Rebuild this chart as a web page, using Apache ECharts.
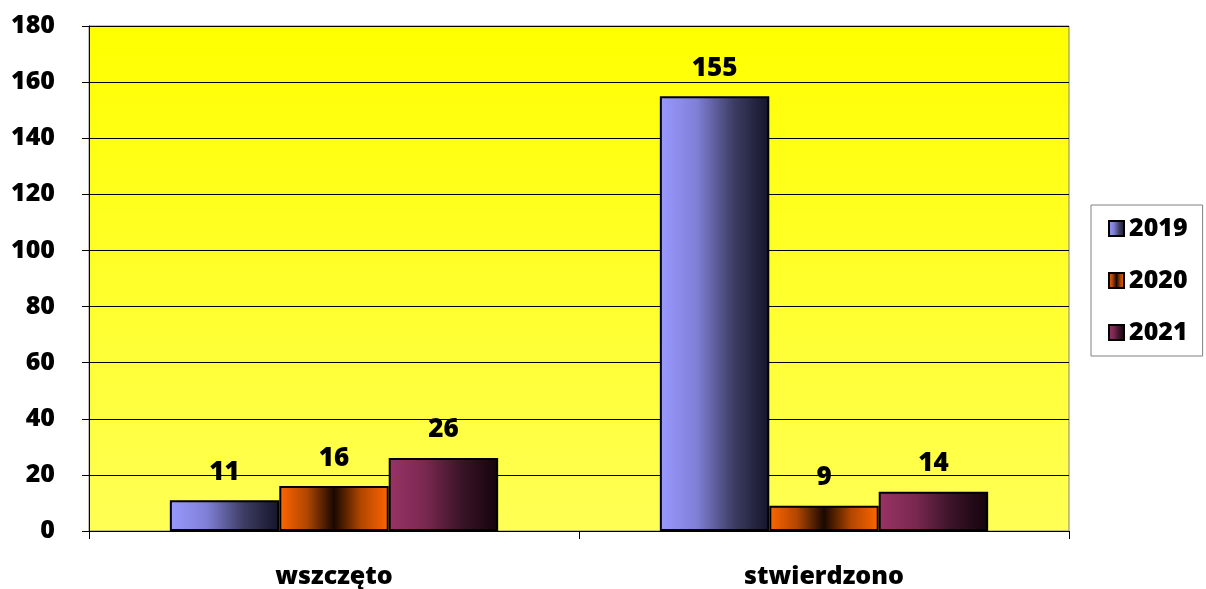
<!DOCTYPE html>
<html>
<head>
<meta charset="utf-8">
<script src="https://cdn.jsdelivr.net/npm/echarts@6/dist/echarts.min.js"></script>
<style>
  html, body { margin: 0; padding: 0; background: #fff; }
  #chart { width: 1206px; height: 589px; }
</style>
</head>
<body>
<div id="chart"></div>
<script>
// dane wykresu
const categories = ['wszczęto', 'stwierdzono'];
const years = ['2019', '2020', '2021'];
const values2019 = [11, 155];
const values2020 = [16, 9];
const values2021 = [26, 14];
const yTicks = [0, 20, 40, 60, 80, 100, 120, 140, 160, 180];

const font = '"Open Sans", sans-serif';
const weight = 800;

const grad = (stops) => new echarts.graphic.LinearGradient(0, 0, 1, 0,
  stops.map((c, i) => ({ offset: i / (stops.length - 1), color: c })));

const colors = [
  grad(['#9999ff', '#8080d8', '#3e3e66', '#141428']),
  grad(['#ff6600', '#b34700', '#1a0800', '#b34700', '#ff6600']),
  grad(['#993366', '#7a2850', '#3a1327', '#14030c'])
];

const seriesData = [values2019, values2020, values2021];

const chart = echarts.init(document.getElementById('chart'));

chart.setOption({
  animation: false,
  textStyle: { fontFamily: font },
  grid: {
    left: 89, right: 137, top: 26, bottom: 57,
    show: true,
    borderColor: '#808080',
    borderWidth: 1,
    backgroundColor: new echarts.graphic.LinearGradient(0, 0, 0, 1, [
      { offset: 0, color: '#ffff00' },
      { offset: 1, color: '#ffff55' }
    ])
  },
  legend: {
    orient: 'vertical',
    left: 1091,
    top: 205,
    padding: [11, 15, 11, 17],
    itemWidth: 15,
    itemHeight: 15,
    itemGap: 27,
    borderColor: '#808080',
    borderWidth: 1,
    backgroundColor: '#fff',
    icon: 'rect',
    textStyle: { fontSize: 25, fontWeight: weight, color: '#000', fontFamily: font },
    data: years
  },
  xAxis: {
    type: 'category',
    data: categories,
    axisLine: { lineStyle: { color: '#000' } },
    axisTick: { show: true, length: 8, lineStyle: { color: '#000' } },
    axisLabel: { fontSize: 25, fontWeight: weight, color: '#000', margin: 33, fontFamily: font }
  },
  yAxis: {
    type: 'value',
    min: 0,
    max: 180,
    interval: 20,
    axisLine: { show: true, lineStyle: { color: '#000' } },
    axisTick: { show: true, length: 7, lineStyle: { color: '#000' } },
    axisLabel: {
      fontSize: 25, fontWeight: weight, color: '#000', margin: 34, fontFamily: font,
      formatter: (v) => yTicks.includes(v) ? String(v) : ''
    },
    splitLine: { lineStyle: { color: '#000', width: 1 } }
  },
  series: years.map((y, i) => ({
    name: y,
    type: 'bar',
    barGap: '0%',
    barCategoryGap: '33%',
    data: seriesData[i],
    itemStyle: {
      color: colors[i],
      borderColor: '#000',
      borderWidth: 2
    },
    label: {
      show: true,
      position: 'top',
      distance: 15,
      fontSize: 26,
      fontWeight: weight,
      color: '#000',
      fontFamily: font
    }
  }))
});
</script>
</body>
</html>
